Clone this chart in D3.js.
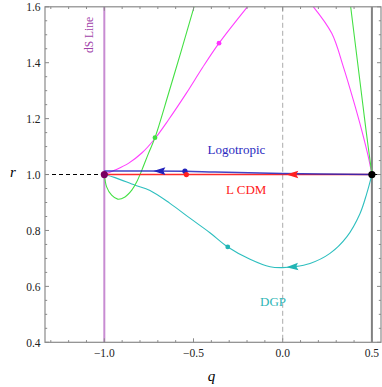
<!DOCTYPE html>
<html>
<head>
<meta charset="utf-8">
<script src="https://cdn.jsdelivr.net/npm/d3@7"></script>
<style>
  body { margin: 0; background: #fff; }
  svg text { font-family: "Liberation Serif", "DejaVu Serif", serif; }
</style>
</head>
<body>
<div id="chart"></div>
<script>
// ---- data (q, r) ----
var xTicks = [-1.0, -0.5, 0.0, 0.5];
var xTickLabels = ["\u22121.0", "\u22120.5", "0.0", "0.5"];
var yTicks = [0.4, 0.6, 0.8, 1.0, 1.2, 1.4, 1.6];
var yTickLabels = ["0.4", "0.6", "0.8", "1.0", "1.2", "1.4", "1.6"];

var lcdm = [[-1, 1.0], [0.5, 1.0]];
var logotropic = [[-1, 1.013], [-0.55, 1.012], [-0.38, 1.009], [0, 1.004], [0.5, 1.0]];
var dgp = [[-1, 1.0], [-0.94, 0.989], [-0.828, 0.962], [-0.744, 0.943], [-0.632, 0.897],
  [-0.52, 0.844], [-0.408, 0.792], [-0.308, 0.741], [-0.183, 0.697], [-0.071, 0.670],
  [0.0, 0.667], [0.06, 0.670], [0.153, 0.682], [0.265, 0.718], [0.359, 0.777],
  [0.433, 0.860], [0.471, 0.932], [0.5, 1.0]];
// curves leaving the top of the frame: two branches each
var greenLeft = [[-1, 1.0], [-0.987, 0.956], [-0.959, 0.926], [-0.925, 0.912], [-0.884, 0.920],
  [-0.846, 0.944], [-0.818, 0.974], [-0.790, 1.015], [-0.753, 1.075], [-0.716, 1.132],
  [-0.64, 1.29], [-0.57, 1.44], [-0.497, 1.6]];
var greenRight = [[0.381, 1.6], [0.42, 1.40], [0.45, 1.246], [0.467, 1.159], [0.4975, 1.012], [0.5, 1.0]];
var magentaLeft = [[-1, 1.0], [-0.94, 1.016], [-0.865, 1.040], [-0.79, 1.077], [-0.716, 1.129],
  [-0.64, 1.196], [-0.538, 1.293], [-0.45, 1.382], [-0.357, 1.47], [-0.198, 1.6]];
var magentaRight = [[0.172, 1.6], [0.275, 1.505], [0.34, 1.385], [0.396, 1.266], [0.443, 1.158],
  [0.48, 1.063], [0.5, 1.0]];

var dots = [
  { q: -0.548, r: 1.012, c: "#2222bb", s: 2.6 },
  { q: -0.54, r: 1.0, c: "#ff2020", s: 2.6 },
  { q: -0.716, r: 1.132, c: "#44dd44", s: 2.4 },
  { q: -0.357, r: 1.47, c: "#ff33ff", s: 2.4 },
  { q: -0.308, r: 0.741, c: "#22b5b5", s: 2.4 },
  { q: -1.0, r: 1.0, c: "#7a0060", s: 3.6 },
  { q: 0.5, r: 1.0, c: "#000000", s: 3.6 }
];
// arrow tips (q on the series), pointing toward smaller q
var arrows = [
  { series: logotropic, q: -0.725, c: "#2222bb" },
  { series: lcdm, q: 0.02, c: "#ff2020" },
  { series: dgp, q: 0.02, c: "#22b5b5" }
];

// ---- layout ----
var W = 382, H = 387;
var pLeft = 45, pRight = 381, pTop = 6.8, pBottom = 342.3;

var x = d3.scaleLinear().domain([-1.3325, 0.551]).range([pLeft, pRight]);
var y = d3.scaleLinear().domain([0.4, 1.6]).range([pBottom, pTop]);

var svg = d3.select("#chart").append("svg").attr("width", W).attr("height", H);

svg.append("clipPath").attr("id", "plotClip")
  .append("rect").attr("x", pLeft).attr("y", pTop)
  .attr("width", pRight - pLeft).attr("height", pBottom - pTop);

var plot = svg.append("g").attr("clip-path", "url(#plotClip)");

var line = d3.line()
  .x(function (d) { return x(d[0]); })
  .y(function (d) { return y(d[1]); })
  .curve(d3.curveCatmullRom.alpha(0.5));

// reference lines
plot.append("line")
  .attr("x1", pLeft).attr("x2", pRight).attr("y1", y(1)).attr("y2", y(1))
  .attr("stroke", "#000").attr("stroke-width", 1.1).attr("stroke-dasharray", "4,3");
plot.append("line")
  .attr("x1", x(0)).attr("x2", x(0)).attr("y1", pTop).attr("y2", pBottom)
  .attr("stroke", "#aaa").attr("stroke-width", 1).attr("stroke-dasharray", "5,3");
plot.append("line")
  .attr("x1", x(-1)).attr("x2", x(-1)).attr("y1", pTop).attr("y2", pBottom)
  .attr("stroke", "#c88cd2").attr("stroke-width", 2);
plot.append("line")
  .attr("x1", x(0.5)).attr("x2", x(0.5)).attr("y1", pTop).attr("y2", pBottom)
  .attr("stroke", "#808080").attr("stroke-width", 2);

// curves
function curve(data, color, width, opacity) {
  plot.append("path").datum(data)
    .attr("d", line)
    .attr("fill", "none")
    .attr("stroke", color)
    .attr("stroke-width", width)
    .attr("stroke-opacity", opacity || 1);
}
curve(dgp, "#2ebfbf", 1.1);
curve(magentaLeft, "#ff40ff", 1.1);
curve(magentaRight, "#ff40ff", 1.1);
curve(greenLeft, "#44e044", 1.1);
curve(greenRight, "#44e044", 1.1);
curve(lcdm, "#ff2a2a", 1.4);
curve(logotropic, "#2222bb", 1.5, 0.85);

// arrowheads
function arrowAt(a) {
  var s = a.series, i;
  for (i = 0; i < s.length - 1; i++) {
    if (a.q >= s[i][0] && a.q <= s[i + 1][0]) break;
  }
  var t = (a.q - s[i][0]) / (s[i + 1][0] - s[i][0]);
  var rr = s[i][1] + t * (s[i + 1][1] - s[i][1]);
  var px = x(a.q), py = y(rr);
  var ang = Math.atan2(y(s[i][1]) - y(s[i + 1][1]), x(s[i][0]) - x(s[i + 1][0])) * 180 / Math.PI;
  plot.append("path")
    .attr("d", "M0,0 L-12,-3.8 L-10,0 L-12,3.8 Z")
    .attr("transform", "translate(" + px + "," + py + ") rotate(" + ang + ")")
    .attr("fill", a.c);
}
arrows.forEach(arrowAt);

plot.selectAll("circle.pt").data(dots).enter().append("circle")
  .attr("class", "pt")
  .attr("cx", function (d) { return x(d.q); })
  .attr("cy", function (d) { return y(d.r); })
  .attr("r", function (d) { return d.s; })
  .attr("fill", function (d) { return d.c; });

// frame + ticks (Mathematica style, inward on all sides)
var frameColor = "#8a8a8a";
svg.append("rect")
  .attr("x", pLeft).attr("y", pTop).attr("width", pRight - pLeft).attr("height", pBottom - pTop)
  .attr("fill", "none").attr("stroke", frameColor).attr("stroke-width", 1.2);

var xMinor = d3.range(-13, 6).map(function (k) { return k / 10; });
var yMinor = d3.range(8, 33).map(function (k) { return k / 20; });

function isMajor(v, list) {
  return list.some(function (m) { return Math.abs(m - v) < 1e-6; });
}

var tickG = svg.append("g").attr("stroke", frameColor).attr("stroke-width", 1);
xMinor.forEach(function (v) {
  var len = isMajor(v, xTicks) ? 4 : 2.2;
  tickG.append("line").attr("x1", x(v)).attr("x2", x(v)).attr("y1", pBottom).attr("y2", pBottom - len);
  tickG.append("line").attr("x1", x(v)).attr("x2", x(v)).attr("y1", pTop).attr("y2", pTop + len);
});
yMinor.forEach(function (v) {
  var len = isMajor(v, yTicks) ? 4 : 2.2;
  tickG.append("line").attr("x1", pLeft).attr("x2", pLeft + len).attr("y1", y(v)).attr("y2", y(v));
  tickG.append("line").attr("x1", pRight).attr("x2", pRight - len).attr("y1", y(v)).attr("y2", y(v));
});

// tick labels
svg.selectAll("text.xt").data(xTicks).enter().append("text")
  .attr("class", "xt")
  .attr("x", function (d) { return x(d); })
  .attr("y", pBottom + 14.5)
  .attr("text-anchor", "middle")
  .attr("font-size", 11.5)
  .attr("fill", "#222")
  .text(function (d, i) { return xTickLabels[i]; });

svg.selectAll("text.yt").data(yTicks).enter().append("text")
  .attr("class", "yt")
  .attr("x", pLeft - 4.5)
  .attr("y", function (d) { return y(d) + 4.2; })
  .attr("text-anchor", "end")
  .attr("font-size", 11.5)
  .attr("fill", "#222")
  .text(function (d, i) { return yTickLabels[i]; });

// axis labels
svg.append("text").attr("x", 211.5).attr("y", 381).attr("text-anchor", "middle")
  .attr("font-size", 15).attr("font-style", "italic").text("q");
svg.append("text").attr("x", 13).attr("y", 177).attr("text-anchor", "middle")
  .attr("font-size", 15).attr("font-style", "italic").text("r");

// curve labels
svg.append("text").attr("transform", "translate(92.5,35) rotate(-90)")
  .attr("text-anchor", "middle").attr("font-size", 11.5).attr("fill", "#a040a8").text("dS Line");
svg.append("text").attr("x", 207.5).attr("y", 154)
  .attr("font-size", 13).attr("fill", "#2a2ac0").text("Logotropic");
svg.append("text").attr("x", 226).attr("y", 194)
  .attr("font-size", 13).attr("fill", "#ff2020").text("L CDM");
svg.append("text").attr("x", 260).attr("y", 305.5)
  .attr("font-size", 13).attr("fill", "#2eb5b5").text("DGP");
</script>
</body>
</html>
